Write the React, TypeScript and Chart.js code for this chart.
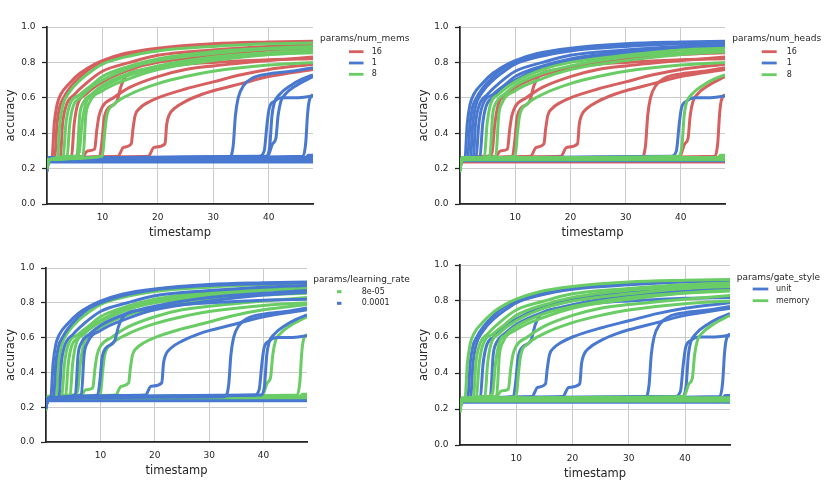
import React, { useEffect, useRef } from "react";
import { Chart, registerables } from "chart.js";
Chart.register(...registerables);

type Pt = [number, number];

// ---- runs: [timestamp, accuracy] ----
const r00: Pt[] = [[0, 0.19], [0.3, 0.25], [0.9, 0.26], [1.3, 0.45], [1.8, 0.56], [2.5, 0.62], [4, 0.68], [6, 0.74], [8, 0.78], [10, 0.81], [14, 0.85], [20, 0.88], [30, 0.905], [40, 0.915], [48, 0.92]];
const r01: Pt[] = [[0, 0.2], [0.3, 0.25], [1.4, 0.26], [1.8, 0.45], [2.3, 0.55], [3, 0.6], [4, 0.65], [6, 0.72], [8, 0.77], [10, 0.8], [14, 0.84], [20, 0.875], [30, 0.9], [40, 0.91], [48, 0.915]];
const r02: Pt[] = [[0, 0.2], [0.3, 0.25], [1.9, 0.26], [2.3, 0.45], [2.8, 0.55], [4, 0.63], [6, 0.7], [8, 0.75], [10, 0.79], [14, 0.83], [20, 0.865], [30, 0.89], [40, 0.905], [48, 0.91]];
const r03: Pt[] = [[0, 0.2], [0.3, 0.25], [2.4, 0.26], [2.8, 0.45], [3.4, 0.55], [5, 0.62], [7, 0.68], [10, 0.75], [15, 0.8], [20, 0.84], [30, 0.87], [40, 0.89], [48, 0.9]];
const r04: Pt[] = [[0, 0.2], [0.3, 0.25], [2.9, 0.26], [3.4, 0.45], [4, 0.55], [6, 0.62], [8, 0.67], [10, 0.72], [15, 0.78], [20, 0.82], [30, 0.86], [40, 0.88], [48, 0.89]];
const r05: Pt[] = [[0, 0.2], [0.3, 0.25], [3.6, 0.26], [4.1, 0.45], [4.7, 0.55], [6, 0.6], [8, 0.66], [10, 0.7], [15, 0.77], [20, 0.81], [30, 0.85], [40, 0.875], [48, 0.885]];
const r06: Pt[] = [[0, 0.2], [0.3, 0.25], [4.4, 0.26], [4.9, 0.45], [5.5, 0.56], [7, 0.62], [10, 0.69], [15, 0.76], [20, 0.8], [30, 0.84], [40, 0.87], [48, 0.88]];
const r07: Pt[] = [[0, 0.2], [0.3, 0.25], [5.4, 0.27], [5.9, 0.5], [6.5, 0.57], [8, 0.62], [10, 0.67], [15, 0.74], [20, 0.78], [30, 0.83], [40, 0.855], [48, 0.87]];
const r08: Pt[] = [[0, 0.2], [0.3, 0.25], [5, 0.27], [5.8, 0.29], [6.3, 0.45], [7, 0.57], [8, 0.61], [10, 0.66], [15, 0.73], [20, 0.77], [30, 0.82], [40, 0.845], [48, 0.855]];
const r09: Pt[] = [[0, 0.2], [0.3, 0.25], [6.5, 0.27], [7, 0.5], [7.6, 0.57], [10, 0.64], [15, 0.71], [20, 0.76], [30, 0.81], [40, 0.845], [48, 0.86]];
const r10: Pt[] = [[0, 0.2], [0.3, 0.25], [6.5, 0.27], [7.3, 0.3], [8.6, 0.31], [9, 0.42], [9.4, 0.5], [10, 0.55], [12, 0.6], [15, 0.66], [20, 0.72], [25, 0.76], [30, 0.78], [40, 0.81], [48, 0.83]];
const r11: Pt[] = [[0, 0.2], [0.3, 0.25], [9.5, 0.27], [9.9, 0.35], [10.3, 0.48], [11, 0.54], [12.6, 0.58], [13.4, 0.67], [14.5, 0.73], [18, 0.76], [25, 0.79], [30, 0.8], [40, 0.815], [48, 0.82]];
const r12: Pt[] = [[0, 0.2], [0.3, 0.25], [10, 0.27], [10.4, 0.4], [10.8, 0.5], [12, 0.56], [15, 0.62], [20, 0.68], [25, 0.72], [30, 0.75], [40, 0.785], [48, 0.8]];
const r13: Pt[] = [[0, 0.2], [0.3, 0.25], [12.8, 0.27], [13.8, 0.32], [15.2, 0.34], [15.5, 0.42], [15.9, 0.5], [16.7, 0.54], [18, 0.57], [20, 0.6], [25, 0.65], [30, 0.69], [35, 0.73], [40, 0.76], [48, 0.79]];
const r14: Pt[] = [[0, 0.2], [0.3, 0.25], [18.3, 0.27], [19.3, 0.32], [21.3, 0.34], [21.6, 0.45], [22, 0.5], [23, 0.54], [25, 0.58], [28, 0.62], [30, 0.64], [35, 0.68], [40, 0.72], [48, 0.76]];
const r15: Pt[] = [[0, 0.2], [0.3, 0.25], [32.8, 0.26], [33.6, 0.33], [34, 0.5], [34.5, 0.6], [35.5, 0.67], [37, 0.71], [40, 0.735], [44, 0.75], [48, 0.77]];
const r16: Pt[] = [[0, 0.2], [0.3, 0.25], [38.3, 0.27], [39.2, 0.3], [39.7, 0.45], [40.1, 0.54], [41, 0.58], [42.5, 0.6], [45, 0.6], [48, 0.61]];
const r17: Pt[] = [[0, 0.2], [0.3, 0.25], [39.6, 0.27], [40.2, 0.33], [40.6, 0.5], [41, 0.57], [42, 0.62], [44, 0.67], [46, 0.705], [48, 0.73]];
const r18: Pt[] = [[0, 0.2], [0.3, 0.25], [39.8, 0.27], [40.7, 0.34], [41.3, 0.37], [41.7, 0.5], [42.2, 0.58], [43, 0.62], [45, 0.67], [48, 0.72]];
const r19: Pt[] = [[0, 0.2], [0.3, 0.25], [46.2, 0.27], [46.7, 0.35], [47, 0.5], [47.3, 0.58], [48, 0.62]];
const f1: Pt[] = [[0, 0.18], [0.3, 0.25], [48, 0.25]];
const f2: Pt[] = [[0, 0.2], [0.3, 0.237], [48, 0.237]];
const f3: Pt[] = [[0, 0.2], [0.3, 0.263], [48, 0.263]];
const f4: Pt[] = [[0, 0.2], [0.3, 0.244], [48, 0.244]];
const f5: Pt[] = [[0, 0.2], [0.3, 0.256], [46.5, 0.256], [47.2, 0.275], [48, 0.275]];

const runs: Pt[][] = [r00, r01, r02, r03, r04, r05, r06, r07, r08, r09, r10, r11, r12, r13, r14, r15, r16, r17, r18, r19, f1, f2, f3, f4, f5];

// ---- parameters of each run (same order as runs) ----
const numMems = ["16", "16", "8", "16", "8", "8", "16", "8", "8", "8", "16", "16", "8", "16", "16", "1", "1", "1", "1", "1", "1", "1", "1", "1", "1"];
const numHeads = ["1", "1", "1", "1", "1", "1", "8", "8", "16", "8", "16", "16", "8", "16", "16", "16", "1", "8", "16", "16", "8", "16", "8", "1", "8"];
const learningRate = ["0.0001", "0.0001", "8e-05", "0.0001", "8e-05", "8e-05", "8e-05", "0.0001", "8e-05", "0.0001", "8e-05", "0.0001", "8e-05", "8e-05", "0.0001", "0.0001", "0.0001", "0.0001", "8e-05", "8e-05", "8e-05", "0.0001", "8e-05", "8e-05", "8e-05"];
const gateStyle = ["memory", "unit", "unit", "memory", "memory", "unit", "memory", "unit", "memory", "memory", "memory", "unit", "memory", "unit", "unit", "unit", "unit", "unit", "memory", "unit", "memory", "unit", "memory", "memory", "unit"];

const memsLevels = ["16", "1", "8"];
const headsLevels = ["16", "1", "8"];
const lrLevels = ["8e-05", "0.0001"];
const gateLevels = ["unit", "memory"];

const xTicks = [10, 20, 30, 40];
const yTicks = [0, 0.2, 0.4, 0.6, 0.8, 1.0];

const RED = "#d65f5f";
const BLUE = "#4878cf";
const GREEN = "#6acc65";
const INK = "#262626";
const FONT = "'DejaVu Sans', sans-serif";

type LegendSpec = {
  title: string;
  titleX: number;
  titleY: number;
  handleX0: number;
  handleX1: number;
  labelX: number;
  rows: number[];
  dot: boolean;
};

type Panel = {
  attr: string[];
  levels: string[];
  colors: string[];
  left: number;
  top: number;
  w: number;
  h: number;
  area: { l: number; r: number; t: number; b: number };
  yTitlePad: number;
  legend: LegendSpec;
};

const panels: Panel[] = [
  {
    attr: numMems, levels: memsLevels, colors: [RED, BLUE, GREEN],
    left: 0, top: 0, w: 415, h: 245,
    area: { l: 47, r: 313, t: 27, b: 204 }, yTitlePad: 4,
    legend: { title: "params/num_mems", titleX: 320, titleY: 39, handleX0: 349, handleX1: 363.5, labelX: 371.7, rows: [51.7, 63, 74.3], dot: false },
  },
  {
    attr: numHeads, levels: headsLevels, colors: [RED, BLUE, GREEN],
    left: 415, top: 0, w: 415, h: 245,
    area: { l: 45, r: 310, t: 27, b: 204 }, yTitlePad: 2,
    legend: { title: "params/num_heads", titleX: 317.3, titleY: 39, handleX0: 346.7, handleX1: 361.7, labelX: 371.7, rows: [51.7, 63, 74.7], dot: false },
  },
  {
    attr: learningRate, levels: lrLevels, colors: [GREEN, BLUE],
    left: 0, top: 245, w: 415, h: 240,
    area: { l: 46, r: 307, t: 23, b: 197 }, yTitlePad: 4,
    legend: { title: "params/learning_rate", titleX: 313.3, titleY: 34.5, handleX0: 337, handleX1: 341.5, labelX: 361.7, rows: [46.7, 58.3], dot: true },
  },
  {
    attr: gateStyle, levels: gateLevels, colors: [BLUE, GREEN],
    left: 415, top: 245, w: 415, h: 240,
    area: { l: 45, r: 315, t: 20, b: 200 }, yTitlePad: 2,
    legend: { title: "params/gate_style", titleX: 321.7, titleY: 32.7, handleX0: 337.7, handleX1: 353.3, labelX: 361, rows: [44, 55.7], dot: false },
  },
];

const hueLegend = {
  id: "hueLegend",
  afterDraw(chart: any, _args: any, opts: any) {
    const spec: LegendSpec = opts.spec;
    const levels: string[] = opts.levels;
    const colors: string[] = opts.colors;
    if (!spec) return;
    const ctx: CanvasRenderingContext2D = chart.ctx;
    ctx.save();
    ctx.fillStyle = INK;
    ctx.textBaseline = "middle";
    ctx.textAlign = "left";
    ctx.font = `9px ${FONT}`;
    ctx.fillText(spec.title, spec.titleX, spec.titleY);
    ctx.font = `8px ${FONT}`;
    levels.forEach((lv, i) => {
      const y = spec.rows[i];
      ctx.fillStyle = colors[i];
      if (spec.dot) {
        ctx.fillRect(spec.handleX0, y - 1.5, spec.handleX1 - spec.handleX0, 3);
      } else {
        ctx.fillRect(spec.handleX0, y - 1.4, spec.handleX1 - spec.handleX0, 2.8);
      }
      ctx.fillStyle = INK;
      ctx.fillText(lv, spec.labelX, y);
    });
    ctx.restore();
  },
};

function PanelChart({ p }: { p: Panel }) {
  const ref = useRef<HTMLCanvasElement | null>(null);
  useEffect(() => {
    if (!ref.current) return;
    const datasets: any[] = [];
    p.levels.forEach((lv, li) => {
      runs.forEach((pts, ri) => {
        if (p.attr[ri] !== lv) return;
        datasets.push({
          label: lv,
          data: pts.map(([x, y]) => ({ x, y })),
          borderColor: p.colors[li],
          backgroundColor: p.colors[li],
          borderWidth: 3,
          pointRadius: 0,
          fill: false,
          cubicInterpolationMode: "monotone",
        });
      });
    });
    const n = datasets.length;
    datasets.forEach((d, i) => (d.order = n - i));

    const xAxisH = 40;
    const chart = new Chart(ref.current, {
      type: "line",
      data: { datasets },
      plugins: [hueLegend],
      options: {
        animation: false,
        responsive: false,
        maintainAspectRatio: false,
        layout: {
          padding: {
            left: 0,
            top: p.area.t,
            right: p.w - p.area.r,
            bottom: Math.max(0, p.h - p.area.b - xAxisH),
          },
        },
        plugins: {
          legend: { display: false },
          tooltip: { enabled: false },
          hueLegend: { spec: p.legend, levels: p.levels, colors: p.colors },
        } as any,
        scales: {
          x: {
            type: "linear",
            min: 0,
            max: 48,
            afterBuildTicks: (s: any) => {
              s.ticks = xTicks.map((v) => ({ value: v }));
            },
            afterFit: (s: any) => {
              s.height = xAxisH;
            },
            grid: { color: "#cccccc", lineWidth: 1, drawTicks: false },
            border: { display: true, color: INK, width: 1.75 },
            ticks: {
              color: INK,
              padding: 8,
              maxRotation: 0,
              font: { family: FONT, size: 9 },
              callback: (v: any) => String(v),
            },
            title: {
              display: true,
              text: "timestamp",
              color: INK,
              font: { family: FONT, size: 11.5 },
              padding: { top: 4, bottom: 4 },
            },
          },
          y: {
            type: "linear",
            min: 0,
            max: 1,
            afterBuildTicks: (s: any) => {
              s.ticks = yTicks.map((v) => ({ value: v }));
            },
            afterFit: (s: any) => {
              s.width = p.area.l;
            },
            grid: { color: "#cccccc", lineWidth: 1, drawTicks: true, tickLength: 5, tickColor: INK, tickWidth: 1.25 },
            border: { display: true, color: INK, width: 1.75 },
            ticks: {
              color: INK,
              padding: 6.5,
              font: { family: FONT, size: 9 },
              callback: (v: any) => Number(v).toFixed(1),
            },
            title: {
              display: true,
              text: "accuracy",
              color: INK,
              font: { family: FONT, size: 11.5 },
              padding: { top: p.yTitlePad, bottom: 4 },
            },
          },
        },
      } as any,
    });
    return () => chart.destroy();
  }, [p]);
  return (
    <div style={{ position: "absolute", left: p.left, top: p.top, width: p.w, height: p.h }}>
      <canvas ref={ref} width={p.w} height={p.h} style={{ display: "block", width: p.w, height: p.h }} />
    </div>
  );
}

export default function App() {
  return (
    <div style={{ position: "absolute", left: 0, top: 0, width: 830, height: 485, background: "#ffffff", overflow: "hidden" }}>
      {panels.map((p, i) => (
        <PanelChart key={i} p={p} />
      ))}
    </div>
  );
}
